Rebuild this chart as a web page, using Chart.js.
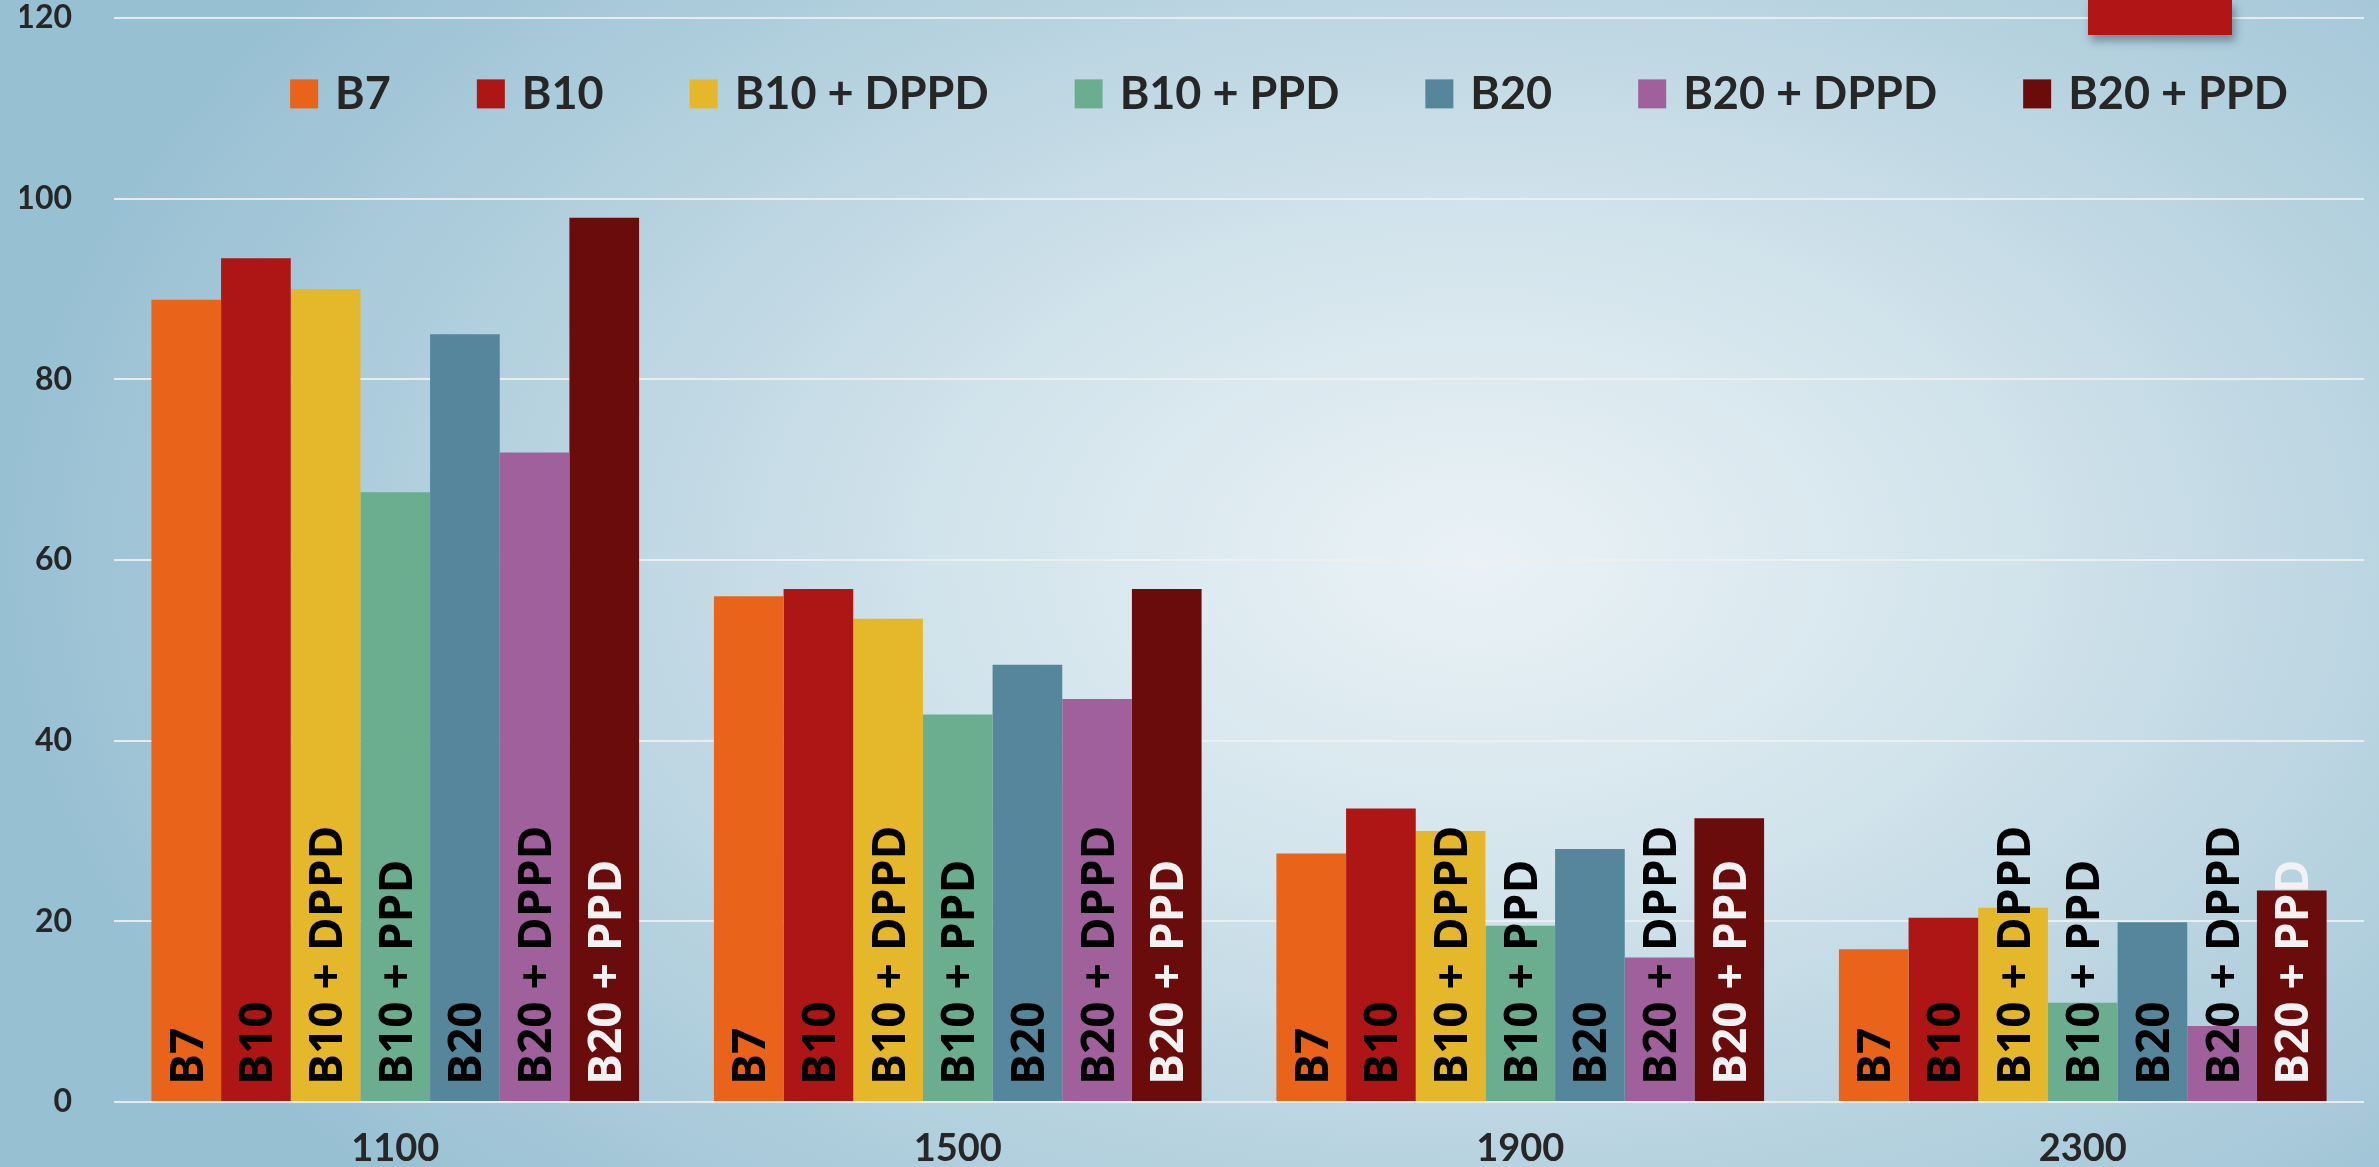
<!DOCTYPE html>
<html>
<head>
<meta charset="utf-8">
<script src="https://cdn.jsdelivr.net/npm/chart.js@4"></script>
<style>
  html, body { margin: 0; padding: 0; overflow: hidden; }
  body {
    width: 2379px; height: 1167px;
    background: radial-gradient(ellipse 62% 80% at 62% 48%, #eaf2f6 0%, #d3e4ec 35%, #b3d0de 70%, #98c0d3 100%);
  }
  #wrap { position: relative; width: 2379px; height: 1167px; }
  #corner {
    position: absolute; left: 2088px; top: 0; width: 144px; height: 35px;
    background: #b11515; box-shadow: 3px 6px 8px rgba(40,60,80,0.45); z-index: 2;
  }
</style>
</head>
<body>
<div id="wrap">
  <canvas id="chart"></canvas>
  <div id="corner"></div>
</div>
<script>
var categories = ['1100', '1500', '1900', '2300'];
var seriesNames = ['B7', 'B10', 'B10 + DPPD', 'B10 + PPD', 'B20', 'B20 + DPPD', 'B20 + PPD'];
var b7 = [88.8, 56.0, 27.5, 16.9];
var b10 = [93.4, 56.8, 32.5, 20.4];
var b10Dppd = [90.0, 53.5, 30.0, 21.5];
var b10Ppd = [67.5, 42.9, 19.5, 11.0];
var b20 = [85.0, 48.4, 28.0, 19.9];
var b20Dppd = [71.9, 44.6, 16.0, 8.4];
var b20Ppd = [97.9, 56.8, 31.4, 23.4];
var yTicks = [0, 20, 40, 60, 80, 100, 120];

var colours = ['#e9641a', '#ae1515', '#e5b72a', '#6aad8f', '#55869b', '#a0609c', '#6b0c0c'];
var labelColours = ['#000', '#000', '#000', '#000', '#000', '#000', '#f2f2f2'];
var values = [b7, b10, b10Dppd, b10Ppd, b20, b20Dppd, b20Ppd];

var datasets = seriesNames.map(function(name, i) {
    return {
        label: name,
        data: values[i],
        backgroundColor: colours[i],
        borderWidth: 0,
        categoryPercentage: 0.867,
        barPercentage: 1.0
    };
});

// labels written up the bars from the base
var barLabels = {
    id: 'barLabels',
    afterDatasetsDraw: function(chart) {
        var ctx = chart.ctx;
        var base = chart.scales.y.getPixelForValue(0);
        var size = 46;
        chart.data.datasets.forEach(function(ds, i) {
            var meta = chart.getDatasetMeta(i);
            meta.data.forEach(function(bar) {
                ctx.save();
                ctx.translate(bar.x, base - 17);
                ctx.rotate(-Math.PI / 2);
                ctx.font = 'bold ' + size + 'px "Open Sans"';
                ctx.fillStyle = labelColours[i];
                ctx.textAlign = 'left';
                ctx.textBaseline = 'alphabetic';
                ctx.fillText(ds.label, 0, size * 0.714 / 2);
                ctx.restore();
            });
        });
    }
};

// one-row legend inside the plot, between the 120 and 100 lines
var plotLegend = {
    id: 'plotLegend',
    afterDraw: function(chart) {
        var ctx = chart.ctx;
        var area = chart.chartArea;
        var boxW = 28, boxH = 29, gap = 17, spacing = 86;
        ctx.save();
        ctx.font = 'bold 45px Lato';
        var widths = chart.data.datasets.map(function(ds) { return ctx.measureText(ds.label).width; });
        var total = widths.reduce(function(a, w) { return a + boxW + gap + w; }, 0) + spacing * (widths.length - 1);
        var x = (area.left + area.right) / 2 + 50 - total / 2;
        var y = chart.scales.y.getPixelForValue(111.6);
        ctx.textBaseline = 'middle';
        ctx.textAlign = 'left';
        chart.data.datasets.forEach(function(ds, i) {
            ctx.fillStyle = ds.backgroundColor;
            ctx.fillRect(x, y - boxH / 2, boxW, boxH);
            x += boxW + gap;
            ctx.fillStyle = '#262626';
            ctx.fillText(ds.label, x, y + 1);
            x += widths[i] + spacing;
        });
        ctx.restore();
    }
};

new Chart(document.getElementById('chart'), {
    type: 'bar',
    data: { labels: categories, datasets: datasets },
    options: {
        responsive: true,
        maintainAspectRatio: false,
        animation: false,
        layout: { padding: { left: 20, right: 15, top: 0, bottom: 0 } },
        plugins: {
            legend: { display: false },
            tooltip: { enabled: false }
        },
        scales: {
            x: {
                grid: { display: false, drawTicks: false },
                border: { display: false },
                ticks: {
                    color: '#262626',
                    font: { family: 'Lato', weight: 'bold', size: 38 },
                    padding: 24
                },
                afterFit: function(axis) { axis.height = 65; }
            },
            y: {
                min: 0,
                max: 120,
                afterBuildTicks: function(axis) {
                    axis.ticks = yTicks.map(function(v) { return { value: v }; });
                },
                grid: { color: 'rgba(238,240,240,0.9)', lineWidth: 2, drawTicks: false },
                border: { display: false },
                ticks: {
                    color: '#262626',
                    font: { family: 'Lato', weight: 'bold', size: 32 },
                    padding: 42
                },
                afterFit: function(axis) {
                    axis.width = 94;
                    axis.paddingTop = 18;
                    axis.paddingBottom = 0;
                }
            }
        }
    },
    plugins: [barLabels, plotLegend]
});
</script>
</body>
</html>
